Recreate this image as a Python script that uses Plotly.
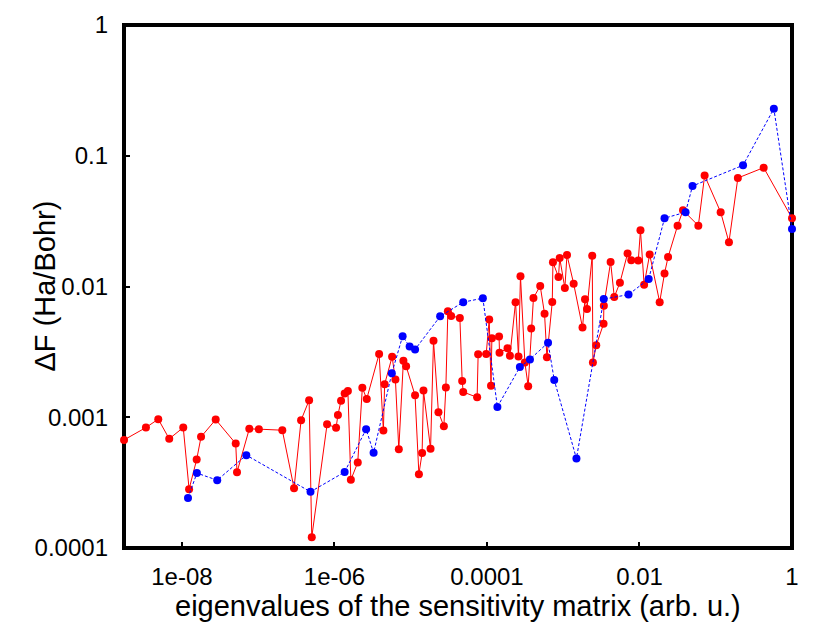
import plotly.graph_objects as go

# red series (solid line)
red_x = [1.74e-9, 3.37e-9, 4.89e-9, 6.81e-9, 1.04e-8, 1.24e-8, 1.56e-8, 1.78e-8, 2.77e-8, 5.07e-8,
         5.27e-8, 7.64e-8, 1.02e-7, 2.07e-7, 2.95e-7, 3.65e-7, 4.65e-7, 5.04e-7, 8.00e-7, 1.05e-6,
         1.11e-6, 1.22e-6, 1.36e-6, 1.50e-6, 1.64e-6, 2.02e-6, 2.32e-6, 2.65e-6, 3.85e-6, 4.38e-6,
         4.55e-6, 5.70e-6, 6.30e-6, 6.98e-6, 8.02e-6, 8.70e-6, 1.14e-5, 1.28e-5, 1.41e-5, 1.47e-5,
         1.82e-5, 1.99e-5, 2.31e-5, 2.72e-5, 2.89e-5, 3.07e-5, 3.39e-5, 4.41e-5, 4.73e-5, 4.88e-5,
         7.43e-5, 7.66e-5, 9.77e-5, 1.07e-4, 1.13e-4, 1.16e-4, 1.44e-4, 1.46e-4, 1.86e-4, 2.00e-4,
         2.37e-4, 2.59e-4, 2.75e-4, 3.14e-4, 3.47e-4, 3.80e-4, 4.07e-4, 4.99e-4, 5.69e-4, 6.11e-4,
         7.18e-4, 7.33e-4, 8.67e-4, 8.99e-4, 1.05e-3, 1.12e-3, 1.37e-3, 1.79e-3, 1.93e-3, 2.05e-3,
         2.40e-3, 2.45e-3, 2.71e-3, 3.38e-3, 3.41e-3, 4.18e-3, 4.67e-3, 5.54e-3, 6.98e-3, 7.80e-3,
         9.64e-3, 1.03e-2, 1.15e-2, 1.36e-2, 1.84e-2, 2.13e-2, 2.37e-2, 3.16e-2, 3.72e-2, 5.91e-2,
         7.15e-2, 0.116, 0.149, 0.195, 0.425, 1.0]
red_y = [6.71e-4, 8.34e-4, 9.67e-4, 6.84e-4, 8.34e-4, 2.82e-4, 4.75e-4, 7.08e-4, 9.60e-4, 6.29e-4,
         3.80e-4, 8.15e-4, 8.11e-4, 7.96e-4, 2.87e-4, 9.50e-4, 1.35e-3, 1.21e-4, 8.85e-4, 8.30e-4,
         1.04e-3, 1.34e-3, 1.52e-3, 1.59e-3, 3.32e-4, 4.51e-4, 1.68e-3, 1.38e-3, 3.05e-3, 7.91e-4,
         1.79e-3, 2.90e-3, 1.94e-3, 5.70e-4, 2.71e-3, 2.46e-3, 1.47e-3, 3.67e-4, 5.32e-4, 1.60e-3,
         5.73e-4, 3.84e-3, 1.09e-3, 8.55e-4, 1.69e-3, 6.48e-3, 5.96e-3, 5.75e-3, 1.89e-3, 1.56e-3,
         1.42e-3, 3.03e-3, 3.05e-3, 5.60e-3, 1.74e-3, 4.02e-3, 4.14e-3, 3.12e-3, 3.37e-3, 2.95e-3,
         7.59e-3, 2.91e-3, 1.20e-2, 2.62e-3, 1.73e-3, 4.77e-3, 8.18e-3, 1.01e-2, 6.18e-3, 2.88e-3,
         7.62e-3, 1.53e-2, 1.18e-2, 1.65e-2, 9.75e-3, 1.74e-2, 1.05e-2, 4.85e-3, 8.00e-3, 6.74e-3,
         1.72e-2, 2.62e-3, 3.56e-3, 5.18e-3, 7.11e-3, 1.54e-2, 8.32e-3, 1.07e-2, 1.79e-2, 1.59e-2,
         1.58e-2, 2.69e-2, 1.03e-2, 1.76e-2, 7.59e-3, 1.26e-2, 1.68e-2, 2.92e-2, 3.83e-2, 2.92e-2,
         7.05e-2, 3.70e-2, 2.18e-2, 6.76e-2, 8.11e-2, 3.33e-2]

# blue series (dashed line)
blue_x = [1.20e-8, 1.57e-8, 2.90e-8, 6.98e-8, 4.85e-7, 1.36e-6, 2.60e-6, 3.26e-6, 5.65e-6, 7.83e-6,
          9.68e-6, 1.14e-5, 2.43e-5, 4.88e-5, 8.83e-5, 1.37e-4, 2.70e-4, 3.66e-4, 6.32e-4, 7.62e-4,
          1.49e-3, 3.40e-3, 7.18e-3, 1.32e-2, 2.13e-2, 4.02e-2, 4.96e-2, 0.228, 0.578, 1.0]
blue_y = [2.41e-4, 3.74e-4, 3.30e-4, 5.13e-4, 2.69e-4, 3.81e-4, 8.11e-4, 5.35e-4, 2.17e-3, 4.17e-3,
          3.47e-3, 3.30e-3, 5.91e-3, 7.59e-3, 8.14e-3, 1.20e-3, 2.42e-3, 2.77e-3, 3.72e-3, 1.93e-3,
          4.83e-4, 8.01e-3, 8.67e-3, 1.14e-2, 3.33e-2, 3.70e-2, 5.87e-2, 8.46e-2, 0.229, 2.75e-2]

x_tickvals = [1e-8, 1e-6, 1e-4, 1e-2, 1]
x_ticktext = ["1e-08", "1e-06", "0.0001", "0.01", "1"]
y_tickvals = [1e-4, 1e-3, 1e-2, 1e-1, 1]
y_ticktext = ["0.0001", "0.001", "0.01", "0.1", "1"]
x_title = "eigenvalues of the sensitivity matrix (arb. u.)"
y_title = "ΔF (Ha/Bohr)"

fig = go.Figure()
fig.add_trace(go.Scatter(x=red_x, y=red_y, mode="lines+markers", cliponaxis=False,
                         line=dict(color="#ff0000", width=1),
                         marker=dict(color="#ff0000", size=8), showlegend=False))
fig.add_trace(go.Scatter(x=blue_x, y=blue_y, mode="lines+markers", cliponaxis=False,
                         line=dict(color="#0000ff", width=1, dash="3px,2px"),
                         marker=dict(color="#0000ff", size=8), showlegend=False))

# thick frame around the plot area
fig.add_shape(type="rect", xref="paper", yref="paper", x0=0, y0=0, x1=1, y1=1,
              line=dict(color="black", width=4), layer="below")

# axis titles as annotations for exact placement
fig.add_annotation(text=x_title, xref="paper", yref="paper", x=0.5, y=0,
                   xanchor="center", yanchor="middle", yshift=-58, showarrow=False,
                   font=dict(size=29))
fig.add_annotation(text=y_title, xref="paper", yref="paper", x=0, y=0.5,
                   xanchor="center", yanchor="middle", xshift=-80, textangle=-90,
                   showarrow=False, font=dict(size=29))

font = "Liberation Sans, Arial, sans-serif"
fig.update_layout(
    width=822, height=615,
    margin=dict(l=116, r=38, t=17, b=75),
    paper_bgcolor="white", plot_bgcolor="white",
    font=dict(family=font, size=24, color="black"),
    xaxis=dict(type="log", range=[-8.76, 0], tickvals=x_tickvals, ticktext=x_ticktext,
               ticks="inside", ticklen=6, tickwidth=2, tickcolor="black", automargin=False,
               showline=False, showgrid=False, zeroline=False, ticklabelstandoff=12),
    yaxis=dict(type="log", range=[-4, 0], tickvals=y_tickvals, ticktext=y_ticktext,
               ticks="inside", ticklen=6, tickwidth=2, tickcolor="black", automargin=False,
               showline=False, showgrid=False, zeroline=False, ticklabelstandoff=15),
)

fig.write_html("out.html")
